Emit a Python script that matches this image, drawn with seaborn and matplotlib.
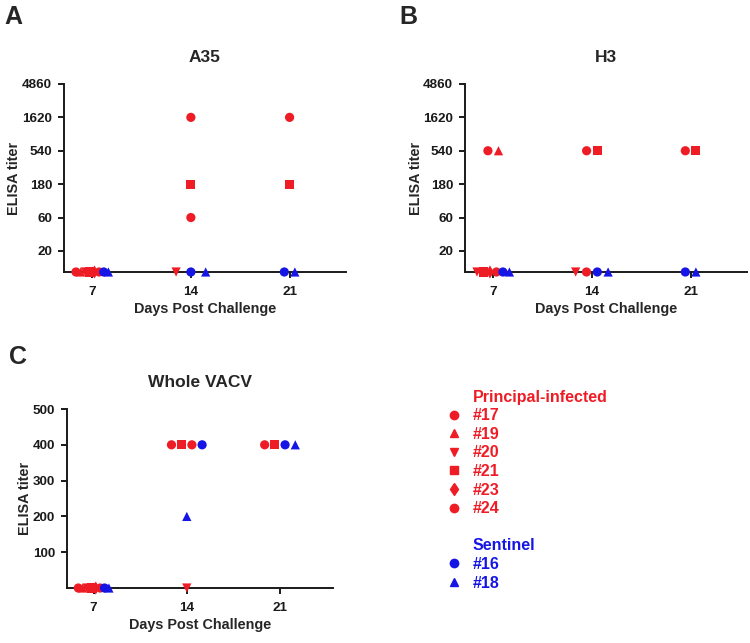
import numpy as np
import pandas as pd
import matplotlib as mpl
import matplotlib.pyplot as plt
from matplotlib.lines import Line2D
import seaborn as sns

sns.set_style('ticks')
plt.rcParams['font.family'] = ['Liberation Sans', 'DejaVu Sans']
plt.rcParams['font.weight'] = 'bold'
plt.rcParams['axes.labelweight'] = 'bold'
plt.rcParams['axes.titleweight'] = 'bold'
plt.rcParams['axes.linewidth'] = 1.4
plt.rcParams['xtick.major.width'] = 1.4
plt.rcParams['ytick.major.width'] = 1.4
plt.rcParams['xtick.major.size'] = 4
plt.rcParams['ytick.major.size'] = 4
plt.rcParams['xtick.color'] = '#1a1a1a'
plt.rcParams['ytick.color'] = '#1a1a1a'
plt.rcParams['axes.edgecolor'] = '#1a1a1a'

# ---- data ----
days = [7, 14, 21]
animals = ['#17', '#19', '#20', '#21', '#23', '#24', '#16', '#18']
groups = ['Principal-infected'] * 6 + ['Sentinel'] * 2
# None = not sampled; 10 (log panels) / 0 (VACV) = below detection, drawn on the axis
a35_day7 = [10, 10, 10, 10, 10, 10, 10, 10]
a35_day14 = [1620, None, 10, 180, None, 60, 10, 10]
a35_day21 = [1620, None, None, 180, None, None, 10, 10]
h3_day7 = [540, 540, 10, 10, 10, 10, 10, 10]
h3_day14 = [540, None, 10, 540, None, 10, 10, 10]
h3_day21 = [540, None, None, 540, None, None, 10, 10]
vacv_day7 = [0, 0, 0, 0, 0, 0, 0, 0]
vacv_day14 = [400, None, 0, 400, None, 400, 400, 200]
vacv_day21 = [400, None, None, 400, None, None, 400, 400]

log_ticks = [20, 60, 180, 540, 1620, 4860]
vacv_ticks = [100, 200, 300, 400, 500]

red = '#ee1c25'
blue = '#1515e6'
palette = {'Principal-infected': red, 'Sentinel': blue}
markers = {'#17': 'o', '#19': '^', '#20': 'v', '#21': 's', '#23': 'd', '#24': 'o',
           '#16': 'o', '#18': '^'}


def make_frame(per_day):
    rows = []
    for day, vals in zip(days, per_day):
        for a, g, v in zip(animals, groups, vals):
            if v is not None:
                rows.append({'day': day, 'animal': a, 'group': g, 'titer': v})
    df = pd.DataFrame(rows)
    # spread points sharing a day and value side by side (scatter dot plot style)
    df['x'] = df['day'].astype(float)
    for _, idx in df.groupby(['day', 'titer']).groups.items():
        n = len(idx)
        if n > 1:
            step = 0.75 if n == 2 else min(1.05, 2.3 / (n - 1))
            df.loc[idx, 'x'] = df.loc[idx, 'day'] + (np.arange(n) - (n - 1) / 2) * step
    return df


def draw(ax, df, title):
    sns.scatterplot(data=df, x='x', y='titer', hue='group', style='animal',
                    palette=palette, markers=markers, s=44, linewidth=0,
                    legend=False, ax=ax, clip_on=False, zorder=3)
    ax.set_xlim(5, 25)
    ax.set_xticks(days)
    ax.set_xticklabels([str(d) for d in days])
    ax.set_title(title, fontsize=12.5, pad=16)
    ax.set_xlabel('Days Post Challenge', fontsize=10.4, labelpad=3)
    ax.set_ylabel('ELISA titer', fontsize=10.4, labelpad=0.5)
    ax.tick_params(axis='x', labelsize=9.7, pad=6)
    ax.tick_params(axis='y', labelsize=9.7, pad=4.5)
    sns.despine(ax=ax)


fig = plt.figure(figsize=(7.5, 6.43), dpi=100)
axA = fig.add_axes([0.0853, 0.577, 0.376, 0.2924])
axB = fig.add_axes([0.62, 0.577, 0.376, 0.2924])
axC = fig.add_axes([0.0893, 0.0855, 0.355, 0.2784])

for ax, per_day, title in [(axA, [a35_day7, a35_day14, a35_day21], 'A35'),
                           (axB, [h3_day7, h3_day14, h3_day21], 'H3')]:
    draw(ax, make_frame(per_day), title)
    ax.set_yscale('log', base=3)
    ax.set_ylim(10, 4860)
    ax.set_yticks(log_ticks)
    ax.set_yticklabels([str(t) for t in log_ticks])
    ax.yaxis.set_minor_locator(mpl.ticker.NullLocator())

draw(axC, make_frame([vacv_day7, vacv_day14, vacv_day21]), 'Whole VACV')
axC.set_ylim(0, 500)
axC.set_yticks(vacv_ticks)

fig.text(0.006, 0.974, 'A', fontsize=18, fontweight='bold', va='center')
fig.text(0.532, 0.974, 'B', fontsize=18, fontweight='bold', va='center')
fig.text(0.012, 0.445, 'C', fontsize=18, fontweight='bold', va='center')

# legend
blank = Line2D([], [], linestyle='none')
handles, labels, colors = [blank], ['Principal-infected'], [red]
sentinel_started = False
for a, g in zip(animals, groups):
    if g == 'Sentinel' and not sentinel_started:
        sentinel_started = True
        handles += [blank, blank]
        labels += ['', 'Sentinel']
        colors += [blue, blue]
    c = palette[g]
    handles.append(Line2D([], [], marker=markers[a], color=c, linestyle='none', markersize=6))
    labels.append(a)
    colors.append(c)
leg = fig.legend(handles, labels, loc='upper left', bbox_to_anchor=(0.596, 0.394),
                 frameon=False, fontsize=11.5, handlelength=0.85, handletextpad=0.75,
                 labelspacing=0.225, borderpad=0, borderaxespad=0)
for t, c in zip(leg.get_texts(), colors):
    t.set_color(c)
    t.set_fontweight('bold')

fig.savefig('out.png', dpi=100)
